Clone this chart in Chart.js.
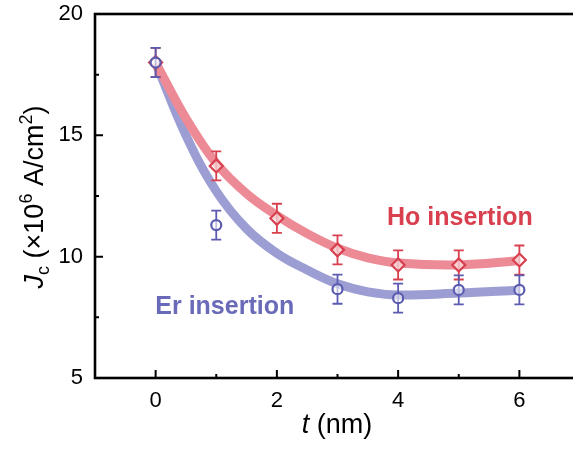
<!DOCTYPE html>
<html><head><meta charset="utf-8">
<script src="https://cdn.jsdelivr.net/npm/chart.js@4.4.1/dist/chart.umd.min.js"></script>
<style>
html,body{margin:0;padding:0;background:#fff;overflow:hidden;width:573px;height:452px}
#wrap{position:relative;width:600px;height:452px}
</style></head>
<body><div id="wrap"><canvas id="c" width="600" height="452"></canvas></div>
<script>
// ---- data ----
const hoThickness = [0, 1, 2, 3, 4, 5, 6];
const hoJc        = [18.0, 13.74, 11.58, 10.28, 9.66, 9.66, 9.86];
const hoErr       = [0.6, 0.6, 0.6, 0.6, 0.6, 0.6, 0.6];

const erThickness = [0, 1, 3, 4, 5, 6];
const erJc        = [18.0, 11.3, 8.66, 8.29, 8.63, 8.63];
const erErr       = [0.6, 0.6, 0.6, 0.6, 0.6, 0.6];

// fitted curves, read along the thick bands
const fitX  = [0, 0.5, 1, 1.5, 2, 2.5, 3, 3.5, 4, 5, 6];
const hoFit = [18.0, 15.7, 13.85, 12.6, 11.7, 10.95, 10.35, 9.95, 9.74, 9.66, 9.83];
const erFit = [18.0, 15.0, 12.7, 11.15, 10.14, 9.45, 8.88, 8.55, 8.42, 8.5, 8.62];

const xMajorTicks = [0, 2, 4, 6];
const xMinorTicks = [1, 3, 5];
const yMajorTicks = [5, 10, 15, 20];
const yMinorTicks = [7.5, 12.5, 17.5];

const seriesLabels = ['Ho insertion', 'Er insertion'];

// ---- styles ----
const FONT = "'Liberation Sans', Arial, sans-serif";
const HO_DARK = '#d8404f', HO_FIT = '#ec8b95';
const ER_DARK = '#5b5cb0', ER_FIT = '#9c9ed3';

const toXY = (xs, ys) => xs.map((x, i) => ({x, y: ys[i]}));

function drawRich(ctx, segs, x, y) {
  let total = 0;
  segs.forEach(s => {
    ctx.font = `${s.style||''} ${s.weight||''} ${s.size}px ${FONT}`;
    s.w = ctx.measureText(s.t).width;
    total += s.w;
  });
  let cx = x - total / 2;
  ctx.textAlign = 'left';
  ctx.textBaseline = 'alphabetic';
  segs.forEach(s => {
    ctx.font = `${s.style||''} ${s.weight||''} ${s.size}px ${FONT}`;
    ctx.fillText(s.t, cx, y + (s.dy || 0));
    cx += s.w;
  });
}

const errorBars = {
  id: 'errorBars',
  beforeDatasetDraw(chart, args) {
    const ds = chart.data.datasets[args.index];
    if (!ds.errors) return;
    const ctx = chart.ctx, xs = chart.scales.x, ys = chart.scales.y;
    ctx.save();
    ctx.strokeStyle = ds.borderColor;
    ctx.lineWidth = 1.8;
    ds.data.forEach((p, i) => {
      const px = xs.getPixelForValue(p.x);
      const top = ys.getPixelForValue(p.y + ds.errors[i]);
      const bot = ys.getPixelForValue(p.y - ds.errors[i]);
      ctx.beginPath();
      ctx.moveTo(px, top); ctx.lineTo(px, bot);
      ctx.moveTo(px - 5, top); ctx.lineTo(px + 5, top);
      ctx.moveTo(px - 5, bot); ctx.lineTo(px + 5, bot);
      ctx.stroke();
    });
    ctx.restore();
  }
};

const frameAndText = {
  id: 'frameAndText',
  afterDraw(chart) {
    const ctx = chart.ctx, a = chart.chartArea;
    const xs = chart.scales.x, ys = chart.scales.y;
    ctx.save();
    ctx.strokeStyle = '#000';
    ctx.lineWidth = 2.6;
    ctx.strokeRect(a.left, a.top, a.right - a.left, a.bottom - a.top);
    ctx.lineWidth = 2;
    ctx.beginPath();
    xMajorTicks.forEach(v => { const p = xs.getPixelForValue(v); ctx.moveTo(p, a.bottom); ctx.lineTo(p, a.bottom - 8); });
    xMinorTicks.forEach(v => { const p = xs.getPixelForValue(v); ctx.moveTo(p, a.bottom); ctx.lineTo(p, a.bottom - 4); });
    yMajorTicks.forEach(v => { const p = ys.getPixelForValue(v); ctx.moveTo(a.left, p); ctx.lineTo(a.left + 8, p); });
    yMinorTicks.forEach(v => { const p = ys.getPixelForValue(v); ctx.moveTo(a.left, p); ctx.lineTo(a.left + 4, p); });
    ctx.stroke();

    // axis titles
    ctx.fillStyle = '#000';
    drawRich(ctx, [
      {t: 't', style: 'italic', size: 27},
      {t: ' (nm)', size: 27}
    ], 337, 433);
    ctx.save();
    ctx.translate(43, 197);
    ctx.rotate(-Math.PI / 2);
    drawRich(ctx, [
      {t: 'J', style: 'italic', size: 27},
      {t: 'c', size: 18, dy: 6},
      {t: ' (×10', size: 27},
      {t: '6', size: 18, dy: -11},
      {t: ' A/cm', size: 27},
      {t: '2', size: 18, dy: -11},
      {t: ')', size: 27}
    ], 0, 0);
    ctx.restore();

    // series labels
    ctx.textAlign = 'center';
    ctx.textBaseline = 'middle';
    ctx.font = `bold 25px ${FONT}`;
    ctx.fillStyle = HO_DARK;
    ctx.fillText(seriesLabels[0], xs.getPixelForValue(5.02), ys.getPixelForValue(11.6));
    ctx.fillStyle = '#6a6bb8';
    ctx.fillText(seriesLabels[1], xs.getPixelForValue(1.14), ys.getPixelForValue(7.93));
    ctx.restore();
  }
};

new Chart(document.getElementById('c'), {
  type: 'scatter',
  data: {
    datasets: [
      {
        label: 'Ho fit', type: 'line', data: toXY(fitX, hoFit),
        borderColor: HO_FIT, borderWidth: 9, pointRadius: 0, fill: false,
        tension: 0.4, order: 3
      },
      {
        label: 'Er fit', type: 'line', data: toXY(fitX, erFit),
        borderColor: ER_FIT, borderWidth: 9, pointRadius: 0, fill: false,
        tension: 0.4, order: 4
      },
      {
        label: seriesLabels[0], data: toXY(hoThickness, hoJc), errors: hoErr,
        pointStyle: 'rectRot', pointRadius: 6.5, borderColor: HO_DARK, borderWidth: 2.2,
        backgroundColor: 'rgba(255,255,255,0.6)', showLine: false, order: 2
      },
      {
        label: seriesLabels[1], data: toXY(erThickness, erJc), errors: erErr,
        pointStyle: 'circle', pointRadius: 5, borderColor: ER_DARK, borderWidth: 2.2,
        backgroundColor: 'rgba(255,255,255,0.6)', showLine: false, order: 1
      }
    ]
  },
  options: {
    responsive: false,
    animation: false,
    devicePixelRatio: 1,
    layout: {padding: {top: 14, right: 20, left: 0, bottom: 0}},
    plugins: {legend: {display: false}, tooltip: {enabled: false}},
    scales: {
      x: {
        type: 'linear', min: -1, max: 7,
        afterBuildTicks: s => { s.ticks = xMajorTicks.map(v => ({value: v})); },
        afterFit: s => { s.height = 74; s.paddingLeft = 0; s.paddingRight = 0; },
        grid: {display: false, drawTicks: false},
        border: {display: false},
        ticks: {color: '#000', font: {family: FONT, size: 22}, padding: 10, maxRotation: 0}
      },
      y: {
        type: 'linear', min: 5, max: 20,
        afterBuildTicks: s => { s.ticks = yMajorTicks.map(v => ({value: v})); },
        afterFit: s => { s.width = 95; s.paddingTop = 0; s.paddingBottom = 0; },
        grid: {display: false, drawTicks: false},
        border: {display: false},
        ticks: {color: '#000', font: {family: FONT, size: 22}, padding: 12}
      }
    }
  },
  plugins: [errorBars, frameAndText]
});
</script>
</body></html>
